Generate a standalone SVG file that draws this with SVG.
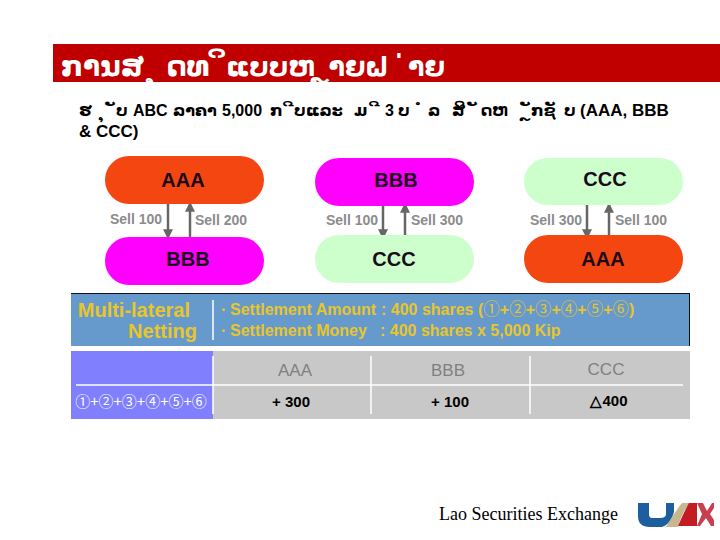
<svg xmlns="http://www.w3.org/2000/svg" width="720" height="540" viewBox="0 0 720 540">
<style>
.s{font-family:"Liberation Sans",Arial,sans-serif;font-weight:700}
.lao{font-family:"DejaVu Sans",sans-serif;font-weight:700}
.n{font-size:20px;text-anchor:middle;fill:#1a0a1a}
.l{font-size:14px;fill:#8c8c8c;text-anchor:middle}
.g{font-size:16px;fill:#e8c62a}
.c{font-family:"Noto Sans CJK JP",sans-serif;font-weight:400}
.h{font-size:17px;fill:#808080;text-anchor:middle;font-family:"Liberation Sans",sans-serif}
.v{font-size:15px;fill:#000;text-anchor:middle}
.a{stroke:#666;stroke-width:2.500;fill:none}
.w{stroke:#fff;stroke-width:1.500}
.t{font-size:27px}
</style>
<defs><marker id="m" markerWidth="4" markerHeight="4" refX="3.500" refY="2" orient="auto"><path d="M0 0L4 2L0 4Z" fill="#666"/></marker></defs>
<rect x="53" y="44" width="667" height="38" fill="#c00000"/>
<text class="lao" font-size="28" fill="#fff" y="76" xml:space="preserve"><tspan x="61">ການສ</tspan><tspan x="148"> ຸ</tspan><tspan x="167">ດທ</tspan><tspan x="217"> ິ</tspan><tspan class="t" x="226">ແບບຫ</tspan><tspan class="t" x="319.500"> ຼ</tspan><tspan class="t" x="328.500">າຍຝ</tspan><tspan class="t" x="399"> ່</tspan><tspan class="t" x="408">າຍ</tspan></text>
<text class="lao" font-size="16" y="116" xml:space="preserve"><tspan x="79">ຮ</tspan><tspan x="100"> ຸ</tspan><tspan x="110"> ັ</tspan><tspan x="116">ບ</tspan><tspan class="s" x="133">ABC</tspan><tspan x="173">ລາຄາ</tspan><tspan class="s" x="222">5,000</tspan><tspan x="270">ກ</tspan><tspan x="288"> ີ</tspan><tspan x="294">ບແລະ</tspan><tspan x="354">ມ</tspan><tspan x="374"> ີ</tspan><tspan class="s" x="385">3</tspan><tspan x="398">ບ</tspan><tspan x="418"> ໍ</tspan><tspan x="428">ລ</tspan><tspan x="452">ສິ</tspan><tspan x="472"> ັ</tspan><tspan x="481">ດຫ</tspan><tspan x="525"> ຼັ</tspan><tspan x="531">ກຊັ</tspan><tspan x="564">ບ</tspan><tspan class="s" font-size="17" x="580">(AAA, BBB</tspan></text>
<text class="s" font-size="17" x="79" y="137">&amp; CCC)</text>
<g id="connectors">
<path class="a" d="M168 204V238" marker-end="url(#m)"/><path class="a" d="M190 237V203" marker-end="url(#m)"/>
<path class="a" d="M383 204V238" marker-end="url(#m)"/><path class="a" d="M405 237V204" marker-end="url(#m)"/>
<path class="a" d="M587 204V238" marker-end="url(#m)"/><path class="a" d="M609 237V204" marker-end="url(#m)"/>
</g>
<g id="aaa1"><rect x="105" y="156" width="159" height="48" rx="24" fill="#f44610"/><text class="s n" x="183" y="187">AAA</text></g>
<g id="bbb1"><rect x="105" y="237" width="159" height="48" rx="24" fill="#ff00ff"/><text class="s n" x="188" y="266">BBB</text></g>
<g id="bbb2"><rect x="315" y="158" width="159" height="48" rx="24" fill="#ff00ff"/><text class="s n" x="396" y="187">BBB</text></g>
<g id="ccc2"><rect x="315" y="235" width="159" height="48" rx="24" fill="#ccffcc"/><text class="s n" x="394" y="266">CCC</text></g>
<g id="ccc3"><rect x="524" y="158" width="159" height="47" rx="23.500" fill="#ccffcc"/><text class="s n" x="605" y="186">CCC</text></g>
<g id="aaa3"><rect x="524" y="235" width="159" height="48" rx="24" fill="#f44610"/><text class="s n" x="603" y="266">AAA</text></g>
<text class="s l" x="136" y="224">Sell 100</text><text class="s l" x="221" y="225">Sell 200</text>
<text class="s l" x="352" y="225">Sell 100</text><text class="s l" x="437" y="225">Sell 300</text>
<text class="s l" x="556" y="225">Sell 300</text><text class="s l" x="641" y="225">Sell 100</text>
<g id="netting">
<rect x="71" y="293" width="619" height="53" fill="#6699cc"/>
<path d="M71 293.500H690M689.500 293V346" stroke="#111" fill="none"/>
<text class="s" x="190" y="317" font-size="20" fill="#e8c62a" text-anchor="end">Multi-lateral</text>
<text class="s" x="197" y="338" font-size="20" fill="#e8c62a" text-anchor="end">Netting</text>
<path d="M213 300V340" stroke="#fff" stroke-width="1.500"/>
<text class="s g" x="221" y="315">·<tspan x="230">Settlement Amount</tspan><tspan x="381">: 400 shares (<tspan class="c" font-size="16.500">①</tspan>+<tspan class="c" font-size="16.500">②</tspan>+<tspan class="c" font-size="16.500">③</tspan>+<tspan class="c" font-size="16.500">④</tspan>+<tspan class="c" font-size="16.500">⑤</tspan>+<tspan class="c" font-size="16.500">⑥</tspan>)</tspan></text>
<text class="s g" x="221" y="336">·<tspan x="230">Settlement Money</tspan><tspan x="380">: 400 shares x 5,000 Kip</tspan></text>
</g>
<g id="table">
<rect x="71" y="351" width="619" height="68" fill="#c8c8c8"/>
<rect x="71" y="351" width="142" height="68" fill="#8080ff"/>
<path class="w" d="M76 385H683M213 356V414M371 356V414M530 356V414"/>
<text class="h" x="295" y="376">AAA</text><text class="h" x="448" y="376">BBB</text><text class="h" x="606" y="375">CCC</text>
<text class="s v" x="291" y="407">+ 300</text><text class="s v" x="450" y="407">+ 100</text><text class="s v" x="609" y="406">△400</text>
<text x="141" y="407" font-size="15" fill="#fff" text-anchor="middle" class="c">①+②+③+④+⑤+⑥</text>
</g>
<text x="439" y="520" font-family="Liberation Serif,serif" font-size="18">Lao Securities Exchange</text>
<g id="logo">
<path d="M638 503V516Q638 527 650 527H662Q671 524 674 512L674 503H666V514Q666 518 660 518H652Q649 518 649 514V503Z" fill="#1d5f9e"/>
<path d="M666 527Q676 510 682 503H690Q682 512 678 527Z" fill="#c8b890"/>
<path d="M678 526Q684 512 689 503H697V526Z" fill="#c41c24"/>
<path d="M697 503H703L707 511L712 503H714V508L710 514L714 520V526H711L706 518L700 526H697L702 514Z" fill="#c84050"/>
</g>
</svg>
